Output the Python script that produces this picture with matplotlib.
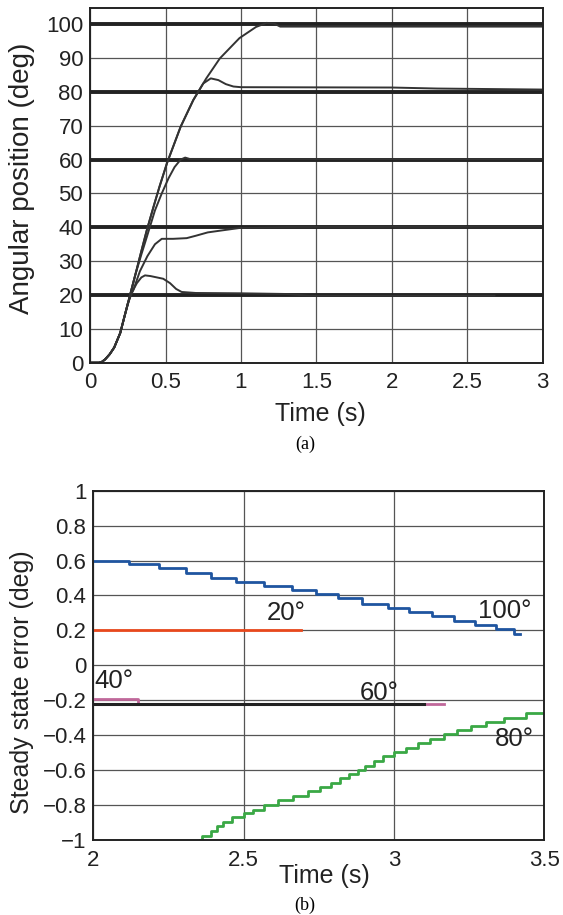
import matplotlib
matplotlib.use("Agg")
import matplotlib.pyplot as plt

plt.rcParams['font.family'] = ['Liberation Sans', 'DejaVu Sans']

# ---------------- (a) angular position ----------------
ref_levels = [20, 40, 60, 80, 100]
ref_t = [0.0, 3.0]

resp_20_t = [0, 0.06, 0.08, 0.1, 0.13, 0.16, 0.2, 0.23, 0.25, 0.28, 0.31, 0.34, 0.364, 0.4, 0.485,
             0.53, 0.57, 0.607, 0.7, 1.0, 1.3, 1.45, 2.68]
resp_20_v = [0, 0, 0.3, 1, 2.5, 4.5, 8.8, 14, 17.5, 21, 23.5, 25.2, 25.8, 25.6, 24.8,
             23.5, 21.8, 20.9, 20.6, 20.5, 20.3, 19.8, 19.8]

resp_40_t = [0, 0.06, 0.08, 0.1, 0.13, 0.16, 0.2, 0.23, 0.265, 0.287, 0.33, 0.38, 0.43, 0.475,
             0.55, 0.64, 0.7, 0.78, 0.86, 0.99, 1.3, 3.0]
resp_40_v = [0, 0, 0.3, 1, 2.5, 4.5, 8.8, 14, 19.5, 21.5, 27, 31.5, 35, 36.6,
             36.6, 36.8, 37.5, 38.5, 39, 39.8, 40.1, 40.2]

resp_60_t = [0, 0.06, 0.08, 0.1, 0.13, 0.16, 0.2, 0.23, 0.265, 0.3, 0.34, 0.375, 0.43, 0.475,
             0.52, 0.56, 0.6, 0.63, 0.66, 3.0]
resp_60_v = [0, 0, 0.3, 1, 2.5, 4.5, 8.8, 14, 20, 26, 32, 37, 45, 50,
             54.5, 57.8, 60, 60.6, 60.2, 60.1]

resp_80_t = [0, 0.06, 0.08, 0.1, 0.13, 0.16, 0.2, 0.23, 0.265, 0.3, 0.34, 0.375, 0.42, 0.46,
             0.51, 0.6, 0.684, 0.75, 0.8, 0.85, 0.9, 0.95, 1.0, 2.0, 2.3, 3.0]
resp_80_v = [0, 0, 0.3, 1, 2.5, 4.5, 8.8, 14, 20, 26, 33, 39, 46, 52,
             59, 69.7, 77.6, 82.5, 84, 83.5, 82.3, 81.6, 81.4, 81.3, 81.0, 80.7]

resp_100_t = [0, 0.06, 0.08, 0.1, 0.13, 0.16, 0.2, 0.23, 0.265, 0.3, 0.34, 0.375, 0.42, 0.46,
              0.51, 0.6, 0.684, 0.77, 0.86, 0.99, 1.10, 1.17, 1.22, 1.26, 3.0]
resp_100_v = [0, 0, 0.3, 1, 2.5, 4.5, 8.8, 14, 20, 26, 33, 39, 46, 52,
              59, 69.7, 77.6, 84, 89.9, 95.9, 99.2, 100.4, 100.2, 99.3, 99.3]

top_xticks = [0, 0.5, 1, 1.5, 2, 2.5, 3]
top_xticklabels = ["0", "0.5", "1", "1.5", "2", "2.5", "3"]
top_yticks = [0, 10, 20, 30, 40, 50, 60, 70, 80, 90, 100]

# ---------------- (b) steady state error ----------------
err_100_t = [2.0, 2.12, 2.22, 2.31, 2.39, 2.475, 2.567, 2.66, 2.74, 2.815, 2.895, 2.98,
             3.05, 3.125, 3.20, 3.27, 3.34, 3.40, 3.42]
err_100_v = [0.6, 0.578, 0.555, 0.526, 0.503, 0.48, 0.453, 0.43, 0.407, 0.384, 0.354, 0.329,
             0.304, 0.281, 0.252, 0.229, 0.206, 0.178, 0.178]

err_20_t = [2.0, 2.69]
err_20_v = [0.2, 0.2]

err_40_t = [2.0, 2.15, 2.15, 3.165]
err_40_v = [-0.19, -0.19, -0.22, -0.22]

err_60_t = [2.0, 3.10]
err_60_v = [-0.22, -0.22]

err_80_t = [2.355, 2.36, 2.39, 2.41, 2.43, 2.46, 2.50, 2.53, 2.567, 2.615, 2.665, 2.715, 2.755,
            2.79, 2.82, 2.85, 2.88, 2.905, 2.935, 2.965, 3.0, 3.04, 3.08, 3.12, 3.165, 3.21,
            3.255, 3.305, 3.365, 3.44, 3.5]
err_80_v = [-1.0, -0.975, -0.947, -0.922, -0.895, -0.87, -0.847, -0.826, -0.8, -0.769, -0.746,
            -0.72, -0.698, -0.673, -0.647, -0.62, -0.597, -0.574, -0.549, -0.522, -0.497,
            -0.472, -0.446, -0.42, -0.396, -0.373, -0.348, -0.325, -0.3, -0.274, -0.274]

bot_xticks = [2, 2.5, 3, 3.5]
bot_xticklabels = ["2", "2.5", "3", "3.5"]
bot_yticks = [-1, -0.8, -0.6, -0.4, -0.2, 0, 0.2, 0.4, 0.6, 0.8, 1]
bot_yticklabels = ["\u22121", "\u22120.8", "\u22120.6", "\u22120.4", "\u22120.2", "0",
                   "0.2", "0.4", "0.6", "0.8", "1"]

# label text, position
err_labels = ["20°", "100°", "40°", "60°", "80°"]
err_label_x = [2.64, 3.37, 2.07, 2.95, 3.40]
err_label_y = [0.30, 0.31, -0.09, -0.16, -0.42]

fig = plt.figure(figsize=(5.63, 9.15), dpi=100)

def style_axes(ax):
    ax.grid(True, color="#555555", linewidth=0.9)
    ax.set_axisbelow(True)
    for s in ax.spines.values():
        s.set_linewidth(1.4)
        s.set_color("#222222")
    ax.tick_params(length=0, labelsize=16, colors="#222222")
    ax.tick_params(axis="x", pad=7)
    ax.tick_params(axis="y", pad=5)

# -------------------- top --------------------
ax1 = fig.add_axes([0.160, 0.6036, 0.804, 0.3873])
for lvl in ref_levels:
    ax1.plot(ref_t, [lvl, lvl], color="#222222", lw=2.8, solid_capstyle="butt")
for t, v in [(resp_20_t, resp_20_v), (resp_40_t, resp_40_v), (resp_60_t, resp_60_v),
             (resp_80_t, resp_80_v), (resp_100_t, resp_100_v)]:
    ax1.plot(t, v, color="#333333", lw=1.4)
ax1.set_xlim(0, 3)
ax1.set_ylim(0, 104.7)
ax1.set_xticks(top_xticks)
ax1.set_xticklabels(top_xticklabels)
ax1.set_yticks(top_yticks)
style_axes(ax1)

fig.text(320 / 563, 1 - 414 / 915, "Time (s)", ha="center", va="center", fontsize=18, color="#222222")
fig.text(305 / 563, 1 - 444 / 915, "(a)", ha="center", va="center", fontsize=13,
         family=["Liberation Serif", "DejaVu Serif"])
fig.text(22 / 563, 1 - 178 / 915, "Angular position (deg)", rotation=90, ha="center",
         va="center", fontsize=20, color="#222222")

# -------------------- bottom --------------------
ax2 = fig.add_axes([0.1657, 0.082, 0.801, 0.3817])
ax2.plot(err_100_t, err_100_v, drawstyle="steps-post", color="#1f55a0", lw=2.0)
ax2.plot(err_20_t, err_20_v, color="#e8481c", lw=2.0)
ax2.plot(err_40_t, err_40_v, color="#c0689a", lw=2.0)
ax2.plot(err_60_t, err_60_v, color="#222222", lw=2.2)
ax2.plot(err_80_t, err_80_v, drawstyle="steps-post", color="#3aa845", lw=2.0)
for txt, x, y in zip(err_labels, err_label_x, err_label_y):
    ax2.text(x, y, txt, ha="center", va="center", fontsize=18.5, color="#222222")
ax2.set_xlim(2, 3.5)
ax2.set_ylim(-1, 1)
ax2.set_xticks(bot_xticks)
ax2.set_xticklabels(bot_xticklabels)
ax2.set_yticks(bot_yticks)
ax2.set_yticklabels(bot_yticklabels)
style_axes(ax2)

fig.text(324 / 563, 1 - 876 / 915, "Time (s)", ha="center", va="center", fontsize=18, color="#222222")
fig.text(305 / 563, 1 - 905 / 915, "(b)", ha="center", va="center", fontsize=13,
         family=["Liberation Serif", "DejaVu Serif"])
fig.text(22 / 563, 1 - 682 / 915, "Steady state error (deg)", rotation=90, ha="center",
         va="center", fontsize=18, color="#222222")

fig.savefig("out.png", dpi=100)
